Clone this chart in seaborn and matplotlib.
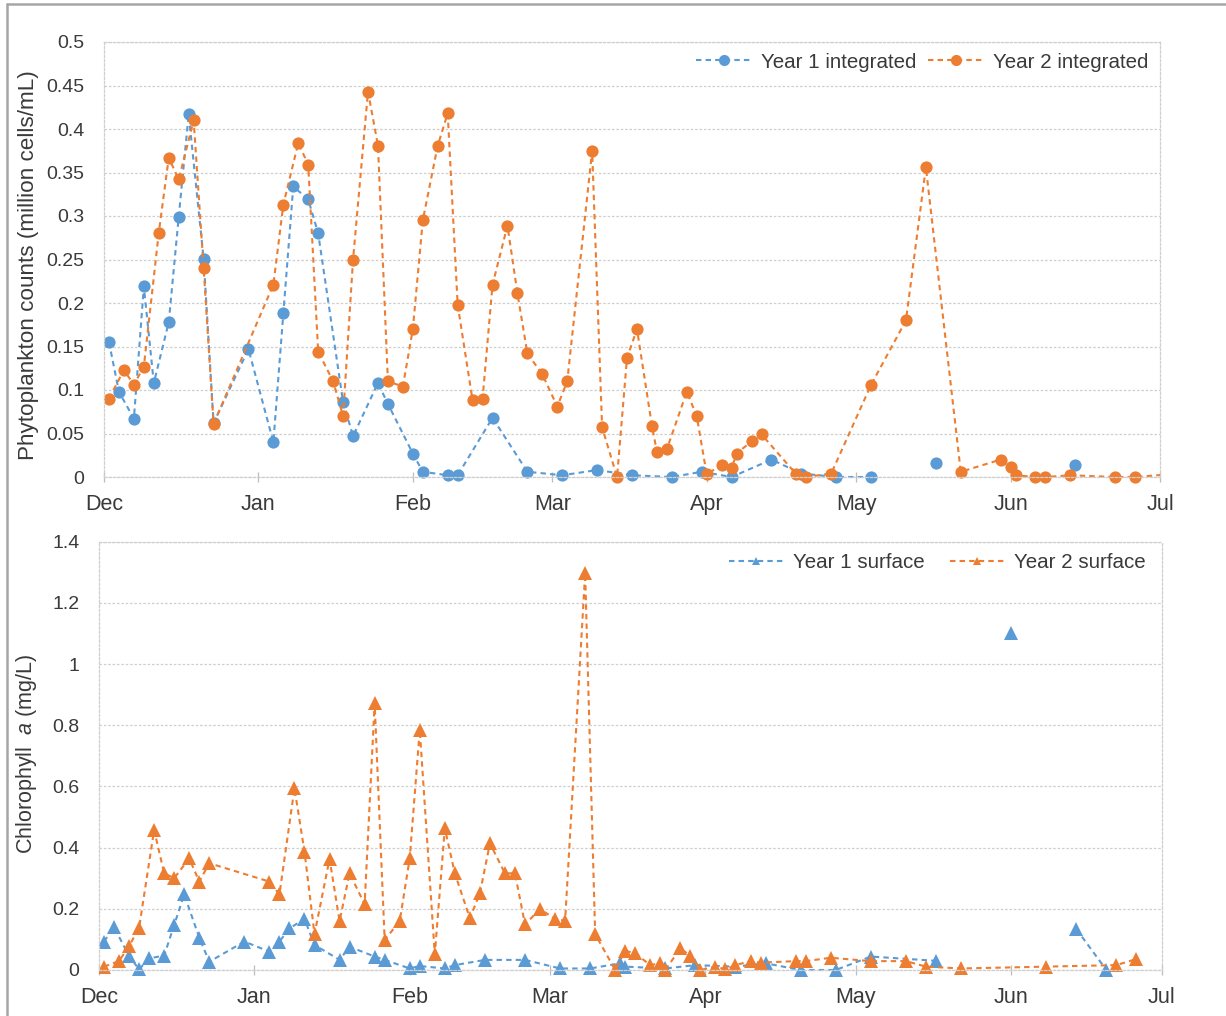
import numpy as np
import pandas as pd
import matplotlib
matplotlib.use("Agg")
import matplotlib.pyplot as plt
import matplotlib.dates as mdates
from matplotlib.lines import Line2D
from matplotlib.patches import Rectangle
from matplotlib.ticker import FuncFormatter
import seaborn as sns

# ---- sampling dates (month-day, season runs Dec -> Jun) and measured values ----
# None marks a sampling date with no measurement (breaks the line)
phyto_y1_dates = ["12-02", "12-04", "12-07", "12-09", "12-11", "12-14", "12-16", "12-18", "12-21", "12-23",
                  "12-30", "01-04", "01-06", "01-08", "01-11", "01-13", "01-18", "01-20", "01-25", "01-27",
                  "02-01", "02-03", "02-08", "02-10", "02-17", "02-24", "03-03", "03-10", "03-17", "03-25",
                  "03-31", "04-06", "04-14", "04-20", "04-27", "05-04", "05-10", "05-17", "05-31", "06-14"]
phyto_y1 = [0.155, 0.098, 0.067, 0.219, 0.108, 0.178, 0.299, 0.417, 0.251, 0.062,
            0.147, 0.040, 0.188, 0.334, 0.319, 0.280, 0.086, 0.047, 0.108, 0.084,
            0.027, 0.006, 0.002, 0.002, 0.068, 0.006, 0.002, 0.008, 0.002, 0.000,
            0.006, 0.000, 0.020, 0.004, 0.000, 0.000, None, 0.016, None, 0.014]

phyto_y2_dates = ["12-02", "12-05", "12-07", "12-09", "12-12", "12-14", "12-16", "12-19", "12-21", "12-23",
                  "01-04", "01-06", "01-09", "01-11", "01-13", "01-16", "01-18", "01-20", "01-23", "01-25",
                  "01-27", "01-30", "02-01", "02-03", "02-06", "02-08", "02-10", "02-13", "02-15", "02-17",
                  "02-20", "02-22", "02-24", "02-27", "03-02", "03-04", "03-09", "03-11", "03-14", "03-16",
                  "03-18", "03-21", "03-22", "03-24", "03-28", "03-30", "04-01", "04-04", "04-06", "04-07",
                  "04-10", "04-12", "04-19", "04-21", "04-26", "05-04", "05-11", "05-15", "05-22", "05-30",
                  "06-01", "06-02", "06-06", "06-08", "06-13", "06-22", "06-26", "07-05"]
phyto_y2 = [0.090, 0.123, 0.106, 0.127, 0.281, 0.367, 0.342, 0.410, 0.240, 0.061,
            0.221, 0.313, 0.384, 0.359, 0.144, 0.110, 0.070, 0.250, 0.443, 0.381,
            0.110, 0.104, 0.170, 0.295, 0.381, 0.418, 0.198, 0.088, 0.090, 0.221,
            0.289, 0.211, 0.142, 0.118, 0.081, 0.110, 0.375, 0.057, 0.000, 0.137,
            0.170, 0.059, 0.029, 0.032, 0.098, 0.070, 0.003, 0.014, 0.010, 0.027,
            0.041, 0.049, 0.003, 0.000, 0.004, 0.106, 0.180, 0.356, 0.006, 0.020,
            0.012, 0.002, 0.000, 0.000, 0.002, 0.000, 0.000, 0.004]

chl_y1_dates = ["12-02", "12-04", "12-07", "12-09", "12-11", "12-14", "12-16", "12-18", "12-21", "12-23",
                "12-30", "01-04", "01-06", "01-08", "01-11", "01-13", "01-18", "01-20", "01-25", "01-27",
                "02-01", "02-03", "02-08", "02-10", "02-16", "02-24", "03-03", "03-09", "03-15", "03-16",
                "03-24", "03-30", "04-07", "04-13", "04-20", "04-27", "05-04", "05-17", "05-24", "06-01",
                "06-07", "06-14", "06-20"]
chl_y1 = [0.093, 0.140, 0.046, 0.002, 0.038, 0.047, 0.147, 0.247, 0.106, 0.027,
          0.093, 0.060, 0.093, 0.136, 0.167, 0.082, 0.033, 0.076, 0.044, 0.033,
          0.005, 0.013, 0.005, 0.016, 0.033, 0.033, 0.005, 0.005, 0.022, 0.011,
          0.005, 0.016, 0.011, 0.022, 0.000, 0.000, 0.044, 0.030, None, 1.100,
          None, 0.134, 0.000]

chl_y2_dates = ["12-02", "12-05", "12-07", "12-09", "12-12", "12-14", "12-16", "12-19", "12-21", "12-23",
                "01-04", "01-06", "01-09", "01-11", "01-13", "01-16", "01-18", "01-20", "01-23", "01-25",
                "01-27", "01-30", "02-01", "02-03", "02-06", "02-08", "02-10", "02-13", "02-15", "02-17",
                "02-20", "02-22", "02-24", "02-27", "03-02", "03-04", "03-08", "03-10", "03-14", "03-16",
                "03-18", "03-21", "03-23", "03-24", "03-27", "03-29", "03-31", "04-03", "04-05", "04-07",
                "04-10", "04-12", "04-19", "04-21", "04-26", "05-04", "05-11", "05-15", "05-22", "06-08",
                "06-22", "06-26"]
chl_y2 = [0.011, 0.029, 0.078, 0.138, 0.458, 0.316, 0.300, 0.365, 0.289, 0.349,
          0.289, 0.247, 0.594, 0.387, 0.117, 0.363, 0.160, 0.316, 0.215, 0.872,
          0.098, 0.160, 0.365, 0.785, 0.051, 0.463, 0.316, 0.169, 0.251, 0.414,
          0.316, 0.316, 0.149, 0.199, 0.167, 0.161, 1.297, 0.117, 0.000, 0.063,
          0.054, 0.016, 0.022, 0.000, 0.071, 0.046, 0.000, 0.011, 0.002, 0.016,
          0.029, 0.024, 0.029, 0.029, 0.040, 0.029, 0.029, 0.011, 0.005, 0.011,
          0.016, 0.036]

phyto_ticks = [0, 0.05, 0.1, 0.15, 0.2, 0.25, 0.3, 0.35, 0.4, 0.45, 0.5]
chl_ticks = [0, 0.2, 0.4, 0.6, 0.8, 1.0, 1.2, 1.4]

# ---- style ----
sns.set_theme(style="white")
plt.rcParams["font.family"] = ["Liberation Sans", "DejaVu Sans"]
plt.rcParams["mathtext.fontset"] = "custom"
plt.rcParams["mathtext.rm"] = "Liberation Sans"
plt.rcParams["mathtext.it"] = "Liberation Sans:italic"

BLUE = "#5B9BD5"
ORANGE = "#ED7D31"
TEXT = "#3A3A3A"
GRID = "#CFCFCF"
DASH = (0, (2.6, 2.0))
W, H = 1226, 1016


def season_dates(md):
    return pd.to_datetime([("2001-" if s.startswith("12") else "2002-") + s for s in md])


def series_frame(md, vals):
    v = pd.Series(vals, dtype=float)
    df = pd.DataFrame({"date": season_dates(md), "value": v, "segment": v.isna().cumsum()})
    return df.dropna()


def draw(ax, md, vals, color, marker, ms):
    n0 = len(ax.lines)
    sns.lineplot(data=series_frame(md, vals), x="date", y="value", units="segment",
                 estimator=None, color=color, marker=marker, markersize=ms,
                 markeredgewidth=0, linestyle=DASH, linewidth=1.5, legend=False, ax=ax)
    # clip horizontally at the plot edges, but let markers on the zero line show fully
    clip = Rectangle((0, -0.1), 1, 1.2, transform=ax.transAxes)
    for ln in ax.lines[n0:]:
        ln.set_clip_path(clip)


fig = plt.figure(figsize=(W / 100, H / 100), dpi=100)
ax1 = fig.add_axes([104 / W, 1 - 477 / H, (1160 - 104) / W, (477 - 42) / H])
ax2 = fig.add_axes([99 / W, 1 - 970 / H, (1161.5 - 99) / W, (970 - 541.7) / H])

draw(ax1, phyto_y1_dates, phyto_y1, BLUE, "o", 8.8)
draw(ax1, phyto_y2_dates, phyto_y2, ORANGE, "o", 8.8)
draw(ax2, chl_y1_dates, chl_y1, BLUE, "^", 9.5)
draw(ax2, chl_y2_dates, chl_y2, ORANGE, "^", 9.5)

fmt = FuncFormatter(lambda v, _: f"{round(v, 2):g}")
for ax, ticks in ((ax1, phyto_ticks), (ax2, chl_ticks)):
    ax.set_xlim(pd.Timestamp("2001-12-01"), pd.Timestamp("2002-07-01"))
    ax.set_ylim(ticks[0], ticks[-1])
    ax.set_yticks(ticks)
    ax.yaxis.set_major_formatter(fmt)
    ax.xaxis.set_major_locator(mdates.MonthLocator())
    ax.xaxis.set_major_formatter(mdates.DateFormatter("%b"))
    ax.set_xlabel("")
    ax.grid(False)
    ax.grid(axis="y", color=GRID, linestyle=(0, (2, 1.5)), linewidth=0.9)
    for sp in ax.spines.values():
        sp.set_color(GRID)
        sp.set_linestyle((0, (2, 1.5)))
        sp.set_linewidth(0.9)
    ax.tick_params(axis="x", bottom=True, direction="inout", length=7, width=0.9,
                   color="#BDBDBD", labelsize=15.5, labelcolor=TEXT, pad=9)
    ax.tick_params(axis="y", left=False, length=0, labelsize=14, labelcolor=TEXT, pad=14)

ax1.set_ylabel("Phytoplankton counts (million cells/mL)", fontsize=16.2, color=TEXT)
ax1.yaxis.set_label_coords(-0.062, 0.487)
ax2.set_ylabel("Chlorophyll  $\\mathit{a}$ (mg/L)", fontsize=15.5, color=TEXT)
ax2.yaxis.set_label_coords(-0.056, 0.504)

# legends
top_handles = [Line2D([], [], color=c, linestyle=DASH, linewidth=1.5, marker="o",
                      markersize=8, markeredgewidth=0) for c in (BLUE, ORANGE)]
ax1.legend(top_handles, ["Year 1 integrated", "Year 2 integrated"], ncol=2, frameon=False,
           loc="center right", bbox_to_anchor=(1148 / W, 1 - 62 / H), bbox_transform=fig.transFigure,
           fontsize=14.8, handlelength=2.7, handletextpad=0.45, columnspacing=0.55,
           borderpad=0, borderaxespad=0, labelcolor=TEXT)
bot_handles = [Line2D([], [], color=c, linestyle=DASH, linewidth=1.5, marker="^",
                      markersize=6, markeredgewidth=0) for c in (BLUE, ORANGE)]
ax2.legend(bot_handles, ["Year 1 surface", "Year 2 surface"], ncol=2, frameon=False,
           loc="center right", bbox_to_anchor=(1146 / W, 1 - 563 / H), bbox_transform=fig.transFigure,
           fontsize=14.8, handlelength=2.7, handletextpad=0.45, columnspacing=1.2,
           borderpad=0, borderaxespad=0, labelcolor=TEXT)

# chart-area border (top and left edges)
fig.add_artist(Line2D([7 / W, 1], [1 - 4 / H, 1 - 4 / H], transform=fig.transFigure,
                      color="#A6A6A6", linewidth=1.8))
fig.add_artist(Line2D([7 / W, 7 / W], [0, 1 - 4 / H], transform=fig.transFigure,
                      color="#A6A6A6", linewidth=1.8))

fig.savefig("out.png", dpi=100)
